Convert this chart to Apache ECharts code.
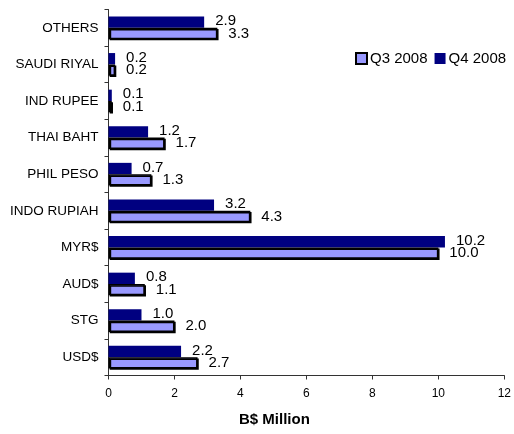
<!DOCTYPE html>
<html>
<head>
<meta charset="utf-8">
<script src="https://cdn.jsdelivr.net/npm/echarts@6/dist/echarts.min.js"></script>
<style>
  html, body { margin: 0; padding: 0; background: #fff; }
  #chart { width: 514px; height: 434px; }
</style>
</head>
<body>
<div id="chart"></div>
<script>
// Currency categories, bottom to top
const categories = ['USD$', 'STG', 'AUD$', 'MYR$', 'INDO RUPIAH', 'PHIL PESO', 'THAI BAHT', 'IND RUPEE', 'SAUDI RIYAL', 'OTHERS'];
// Values in B$ million
const q3_2008 = [2.7, 2.0, 1.1, 10.0, 4.3, 1.3, 1.7, 0.1, 0.2, 3.3];
const q4_2008 = [2.2, 1.0, 0.8, 10.2, 3.2, 0.7, 1.2, 0.1, 0.2, 2.9];
const seriesNames = ['Q3 2008', 'Q4 2008'];
const xTicks = { min: 0, max: 12, interval: 2 };

const FONT = '"Liberation Sans", Arial, sans-serif';

const chart = echarts.init(document.getElementById('chart'), null, { renderer: 'canvas' });

function labelStyle(dy) {
  return {
    show: true,
    position: 'right',
    distance: 11,
    offset: [0, dy],
    color: '#000',
    fontFamily: FONT,
    fontSize: 15,
    formatter: p => p.value.toFixed(1)
  };
}

chart.setOption({
  animation: false,
  backgroundColor: '#fff',
  grid: { left: 108.5, right: 7, top: 9.5, bottom: 58.5, containLabel: false },
  legend: {
    left: 355,
    top: 51,
    itemWidth: 11,
    itemHeight: 11,
    itemGap: 7,
    padding: 0,
    textStyle: { fontFamily: FONT, fontSize: 15, color: '#000', padding: [0, 0, 0, -2] },
    data: [
      { name: seriesNames[0], icon: 'rect' },
      { name: seriesNames[1], icon: 'rect' }
    ]
  },
  xAxis: {
    type: 'value',
    min: xTicks.min,
    max: xTicks.max,
    interval: xTicks.interval,
    name: 'B$ Million',
    nameLocation: 'middle',
    nameGap: 37,
    nameTextStyle: { fontFamily: FONT, fontSize: 15, fontWeight: 'bold', color: '#000', padding: [0, 64, 0, 0] },
    axisLine: { show: true, lineStyle: { color: '#333', width: 1 } },
    axisTick: { show: true, inside: false, length: 4, lineStyle: { color: '#333' } },
    axisLabel: { fontFamily: FONT, fontSize: 12, color: '#000', margin: 12 },
    splitLine: { show: false }
  },
  yAxis: {
    type: 'category',
    data: categories,
    axisLine: { show: true, lineStyle: { color: '#333', width: 1 } },
    axisTick: { show: true, inside: false, length: 4, alignWithLabel: false, lineStyle: { color: '#333' } },
    axisLabel: { fontFamily: FONT, fontSize: 13.5, color: '#000', margin: 10 }
  },
  // Q4 is listed first so its bar sits above the Q3 bar in each group
  series: [
    {
      name: seriesNames[1],
      type: 'bar',
      data: q4_2008,
      barGap: '0%',
      barCategoryGap: '38%',
      itemStyle: { color: '#000080' },
      label: labelStyle(-1)
    },
    {
      name: seriesNames[0],
      type: 'bar',
      data: q3_2008,
      barGap: '0%',
      barCategoryGap: '38%',
      itemStyle: {
        color: '#9999FF',
        borderColor: '#000',
        borderWidth: 1.5,
        shadowColor: '#000',
        shadowOffsetX: 1.2,
        shadowOffsetY: 1.2,
        shadowBlur: 0
      },
      label: labelStyle(0)
    }
  ]
});
</script>
</body>
</html>
